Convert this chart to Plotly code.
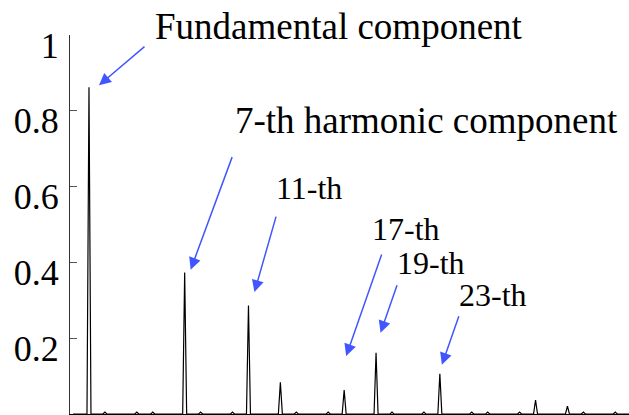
import numpy as np
import plotly.graph_objects as go

# Harmonic spectrum: order -> normalised amplitude
main_orders = [1, 7, 11, 13, 17, 19, 23, 29, 31]
main_amps = [0.862, 0.373, 0.286, 0.0835, 0.063, 0.1615, 0.106, 0.037, 0.021]

# residual low-level components
minor_orders = [2, 4, 5, 8, 10, 14, 16, 20, 22, 25, 26, 28, 32, 34]
minor_amps = [0.005, 0.005, 0.005, 0.005, 0.005, 0.005, 0.005,
              0.005, 0.005, 0.005, 0.005, 0.005, 0.005, 0.005]

ytick_vals = [0.2, 0.4, 0.6, 0.8, 1.0]
ytick_text = ["0.2", "0.4", "0.6", "0.8", "1"]

# FFT-like bin grid: 8 bins per harmonic order
BINS = 8
MAX_ORDER = 35
freq = np.arange(0, MAX_ORDER * BINS + 1) / BINS
mag = np.zeros_like(freq)
for n, a in zip(main_orders + minor_orders, main_amps + minor_amps):
    mag[int(round(n * BINS))] = a

W, H = 629, 415
ML, MR, MT, MB = 70, 0, 35, 1
PW, PH = W - ML - MR, H - MT - MB


def paper_x(px):
    return (px - ML) / PW


def paper_y(py):
    return (H - MB - py) / PH


fig = go.Figure()
fig.add_trace(go.Scatter(x=freq, y=mag, mode="lines",
                         line=dict(color="black", width=1.2),
                         hoverinfo="skip", showlegend=False))

serif = "Liberation Serif"
blue = "#4256ff"

labels = [
    ("Fundamental component", 339, 26.9, 37),
    ("7-th harmonic component", 426, 120.6, 37),
    ("11-th", 308.5, 188.3, 32),
    ("17-th", 405.5, 229.3, 32),
    ("19-th", 431, 263.3, 32),
    ("23-th", 492.5, 295.3, 32),
]
annotations = []
for text, cx, cy, size in labels:
    annotations.append(dict(text=text, xref="paper", yref="paper",
                            x=paper_x(cx), y=paper_y(cy),
                            xanchor="center", yanchor="middle",
                            showarrow=False,
                            font=dict(family=serif, size=size, color="black")))

# arrows: (harmonic index in main lists, tip shift x, tip shift y, tail ax, tail ay)
arrows = [
    (0, 10, 2, 47, -40),
    (1, 6, 3, 42, -114),
    (2, 6, 13.5, 22, -77),
    (4, 2, 34, 36, -103),
    (5, 4.5, 20, 17, -49),
    (6, 2, 9, 17.5, -50),
]
for idx, xs, ys, ax, ay in arrows:
    annotations.append(dict(text="", xref="x", yref="y",
                            x=main_orders[idx], y=main_amps[idx],
                            xshift=xs, yshift=ys, ax=ax, ay=ay,
                            showarrow=True, arrowhead=2, arrowsize=1.6,
                            arrowwidth=1.5, arrowcolor=blue, standoff=0))

fig.update_layout(
    width=W, height=H,
    margin=dict(l=ML, r=MR, t=MT, b=MB, pad=0),
    paper_bgcolor="white", plot_bgcolor="white",
    font=dict(family=serif),
    annotations=annotations,
    xaxis=dict(range=[-0.19, 34.86], showgrid=False, zeroline=False,
               showline=True, linecolor="black", linewidth=1,
               showticklabels=False, ticks=""),
    yaxis=dict(range=[0, 1], showgrid=False, zeroline=False,
               showline=True, linecolor="#333333", linewidth=1,
               ticks="inside", ticklen=7, tickcolor="#555555",
               tickvals=ytick_vals, ticktext=ytick_text,
               tickfont=dict(family=serif, size=36, color="black"),
               ticklabelshift=10, ticklabelstandoff=3),
)

fig.write_html("out.html")
